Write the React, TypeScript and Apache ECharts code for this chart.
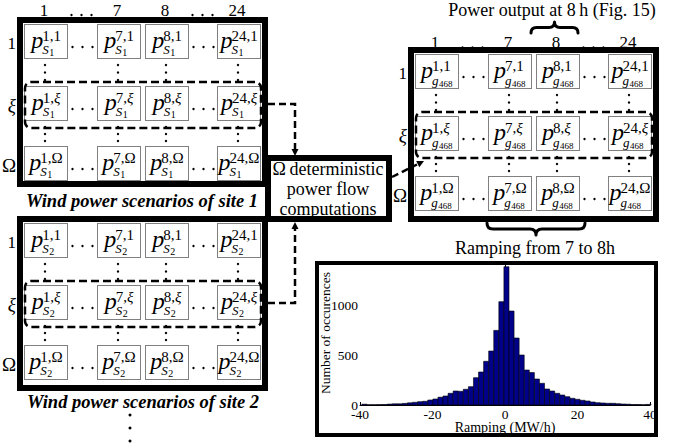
import React, { useEffect, useRef } from "react";
import * as echarts from "echarts";

// ---- labels of the scenario matrices ----
const HOURS = ["1", "7", "8", "24"];
const SCENARIOS = ["1", "ξ", "Ω"];
const SITE_TITLES = ["Wind power scenarios of site 1", "Wind power scenarios of site 2"];
const SITE_SUB = "S";
const SITE_IDX = ["1", "2"];
const GEN_SUB = "g";
const GEN_IDX = "468";
const TOP_NOTE = "Power output at 8\u2009h (Fig. 15)";
const RAMP_NOTE = "Ramping from 7 to 8h";
const PF_LINES = ["Ω\u2009deterministic", "power flow", "computations"];

// ---- ramping histogram (MW/h) ----
const RAMP_BIN_START = -39.5;
const RAMP_BIN_WIDTH = 1.4;
const RAMP_COUNTS = [
  8, 3, 3, 4, 5, 9, 12, 12, 16, 22, 27, 33, 37, 50, 60, 78, 90, 117, 140, 137,
  157, 183, 273, 330, 437, 540, 746, 1033, 1383, 940, 670, 500, 350, 325, 260,
  217, 160, 140, 117, 100, 83, 67, 57, 47, 40, 30, 23, 20, 17, 17, 13, 10, 8, 5,
  5, 3, 6,
];
const RAMP_X_TICKS = [-40, 40, 20];
const RAMP_Y_TICKS = [0, 1400, 500];
const RAMP_X_NAME = "Ramping (MW/h)";
const RAMP_Y_NAME = "Number of occurences";

const SERIF = '"Liberation Serif", "DejaVu Serif", serif';
const BAR_FILL = "#000088";

// matrix geometry
const BOX_W = 251;
const CELL_COLS = [7, 80, 128, 200];
const CELL_W = 44;
const CELL_ROWS = [7, 69, 129];
const CELL_H = 35;

let measureCtx: CanvasRenderingContext2D | null = null;
function measure(t: string, font: string): number {
  if (!measureCtx) measureCtx = document.createElement("canvas").getContext("2d");
  if (!measureCtx) return t.length * 7;
  measureCtx.font = font;
  return measureCtx.measureText(t).width;
}

function bracePath(w: number, h: number, up: boolean): string {
  const m = w / 2;
  const q = h / 2;
  const Y = (v: number) => (up ? v : h - v);
  return (
    `M0,${Y(h)} Q0,${Y(q)} ${q},${Y(q)} L${m - q},${Y(q)} ` +
    `Q${m},${Y(q)} ${m},${Y(0)} Q${m},${Y(q)} ${m + q},${Y(q)} ` +
    `L${w - q},${Y(q)} Q${w},${Y(q)} ${w},${Y(h)}`
  );
}

function registerShapes() {
  echarts.graphic.registerShape("braceUp", echarts.graphic.extendPath(bracePath(47, 11, true), {}) as any);
  echarts.graphic.registerShape("braceDown", echarts.graphic.extendPath(bracePath(98, 12, false), {}) as any);
}

function txt(els: any[], x: number, y: number, t: string, o: any = {}) {
  const align = o.align || "center";
  els.push({
    type: "text",
    x,
    y,
    rotation: o.rotation || 0,
    silent: true,
    z: o.z || 5,
    style: {
      text: t,
      fill: "#000",
      fontFamily: SERIF,
      fontSize: o.fontSize || 17,
      fontStyle: o.fontStyle || "normal",
      fontWeight: o.fontWeight || "normal",
      align,
      textAlign: align,
      verticalAlign: "middle",
      textVerticalAlign: "middle",
      rich: o.rich,
    },
  });
}

function dot(els: any[], x: number, y: number, r = 1.2) {
  els.push({ type: "circle", silent: true, z: 5, shape: { cx: x, cy: y, r }, style: { fill: "#000" } });
}

function matrixBlock(
  els: any[],
  ox: number,
  oy: number,
  h: number,
  base: string,
  idx: string,
  headerDy: number | null
) {
  const isGen = base === GEN_SUB;
  // thick frame
  els.push({
    type: "rect",
    silent: true,
    z: 4,
    shape: { x: ox + 3, y: oy + 3, width: BOX_W - 6, height: h - 6 },
    style: { fill: "none", stroke: "#000", lineWidth: 6 },
  });

  CELL_ROWS.forEach((ry, r) => {
    const rowTop = oy + ry;
    // row label
    const scen = SCENARIOS[r];
    txt(els, ox - 1, rowTop + 19, scen, {
      align: "right",
      fontSize: scen === "1" ? 17 : 19,
      fontStyle: scen === "ξ" ? "italic" : "normal",
    });
    CELL_COLS.forEach((cx, c) => {
      const left = ox + cx;
      els.push({
        type: "rect",
        silent: true,
        z: 5,
        shape: { x: left + 0.5, y: rowTop + 0.5, width: CELL_W - 1, height: CELL_H - 1 },
        style: { fill: "none", stroke: "#000", lineWidth: 1, lineDash: [1, 1] },
      });
      const hour = HOURS[c];
      const supW =
        measure(hour + ",", `15px ${SERIF}`) +
        measure(scen, `${scen === "ξ" ? "italic " : ""}15px ${SERIF}`);
      const subW =
        measure(base, `italic 13px ${SERIF}`) + measure(idx, `${isGen ? 9 : 10}px ${SERIF}`) + 1;
      const pW = measure("p", `italic 24px ${SERIF}`);
      const scriptW = Math.max(supW, subW);
      const cl = left + (CELL_W - (pW - 1 + scriptW)) / 2;
      txt(els, cl, rowTop + 15.5, "p", { align: "left", fontSize: 24, fontStyle: "italic" });
      const sx = cl + pW - 1;
      txt(els, sx, rowTop + 11.5, `{n|${hour},}{${scen === "ξ" ? "i" : "n"}|${scen}}`, {
        align: "left",
        fontSize: 15,
        rich: {
          n: { fontSize: 15, fontFamily: SERIF, fill: "#000" },
          i: { fontSize: 15, fontFamily: SERIF, fontStyle: "italic", fill: "#000" },
        },
      });
      const bW = measure(base, `italic 13px ${SERIF}`);
      txt(els, sx, rowTop + (isGen ? 26.5 : 25), base, { align: "left", fontSize: 13, fontStyle: "italic" });
      txt(els, sx + bW + 0.5, rowTop + (isGen ? 29.5 : 28.5), idx, {
        align: "left",
        fontSize: isGen ? 9 : 10,
      });
    });
    // horizontal ellipses between columns
    [0, 2].forEach((c) => {
      const g0 = ox + CELL_COLS[c] + CELL_W;
      [4.5, 14.5, 24.5].forEach((d) => dot(els, g0 + d, rowTop + 23));
    });
  });

  // vertical dots between the rows
  CELL_COLS.forEach((cx) => {
    const x = ox + cx + CELL_W / 2 - 1;
    [48, 55.5, 63, 110, 117, 124].forEach((d) => dot(els, x, oy + d));
  });

  // dashed frame around scenario ξ
  els.push({
    type: "rect",
    silent: true,
    z: 6,
    shape: { x: ox + 8, y: oy + 65, width: 236, height: 46, r: 6 },
    style: { fill: "none", stroke: "#000", lineWidth: 2.5, lineDash: [8, 4] },
  });

  if (headerDy !== null) {
    CELL_COLS.forEach((cx, c) => {
      txt(els, ox + cx + CELL_W / 2 - 2, oy + headerDy, HOURS[c], { fontSize: 17 });
    });
    [0, 2].forEach((c) => {
      const g0 = ox + CELL_COLS[c] + CELL_W;
      [4.5, 14.5, 24.5].forEach((d) => dot(els, g0 + d - 1, oy + headerDy + 5));
    });
  }
}

function arrowHead(els: any[], tip: number[], from: number[]) {
  const dx = tip[0] - from[0];
  const dy = tip[1] - from[1];
  const L = Math.hypot(dx, dy);
  const ux = dx / L;
  const uy = dy / L;
  const bx = tip[0] - ux * 7;
  const by = tip[1] - uy * 7;
  els.push({
    type: "polygon",
    silent: true,
    z: 6,
    shape: {
      points: [
        [tip[0], tip[1]],
        [bx - uy * 3.5, by + ux * 3.5],
        [bx + uy * 3.5, by - ux * 3.5],
      ],
    },
    style: { fill: "#000" },
  });
}

function dashedLine(els: any[], pts: number[][]) {
  els.push({
    type: "polyline",
    silent: true,
    z: 6,
    shape: { points: pts },
    style: { fill: "none", stroke: "#000", lineWidth: 2.5, lineDash: [7, 4] },
  });
}

function buildGraphics(): any[] {
  const els: any[] = [];
  // site matrices
  matrixBlock(els, 17, 17, 170, SITE_SUB, SITE_IDX[0], -7);
  matrixBlock(els, 17, 216, 175, SITE_SUB, SITE_IDX[1], null);
  txt(els, 142, 201, SITE_TITLES[0], { fontSize: 18.5, fontStyle: "italic", fontWeight: "bold" });
  txt(els, 143, 402, SITE_TITLES[1], { fontSize: 18.5, fontStyle: "italic", fontWeight: "bold" });
  [415, 428, 441].forEach((y) => dot(els, 130, y, 1.5));

  // generator matrix
  matrixBlock(els, 408, 47, 175, GEN_SUB, GEN_IDX, -4.5);

  // power flow box
  els.push({
    type: "rect",
    silent: true,
    z: 4,
    shape: { x: 268, y: 158, width: 121, height: 61 },
    style: { fill: "#fff", stroke: "#000", lineWidth: 6 },
  });
  PF_LINES.forEach((l, i) => txt(els, 328, 169 + i * 20, l, { fontSize: 18 }));

  // dashed arrows
  dashedLine(els, [[268, 104], [295, 104], [295, 150]]);
  arrowHead(els, [295, 156], [295, 140]);
  dashedLine(els, [[268, 303], [295, 303], [295, 228]]);
  arrowHead(els, [295, 222], [295, 240]);
  dashedLine(els, [[392, 177], [417, 164.5]]);
  arrowHead(els, [424, 161], [392, 177]);

  // braces and notes
  els.push({ type: "braceUp", x: 531, y: 22, silent: true, z: 6, style: { fill: "none", stroke: "#000", lineWidth: 3, lineCap: "round", lineJoin: "round" } });
  els.push({ type: "braceDown", x: 487, y: 223, silent: true, z: 6, style: { fill: "none", stroke: "#000", lineWidth: 3, lineCap: "round", lineJoin: "round" } });
  txt(els, 552, 10, TOP_NOTE, { fontSize: 18 });
  txt(els, 535, 248, RAMP_NOTE, { fontSize: 18 });

  // histogram frame and axis names
  els.push({
    type: "rect",
    silent: true,
    z: 10,
    shape: { x: 317, y: 263, width: 339, height: 172 },
    style: { fill: "none", stroke: "#000", lineWidth: 4 },
  });
  txt(els, 325, 333, RAMP_Y_NAME, { fontSize: 13.5, rotation: Math.PI / 2 });
  txt(els, 505, 427.5, RAMP_X_NAME, { fontSize: 14 });
  return els;
}

function buildOption(): any {
  const axisFont = { color: "#000", fontFamily: SERIF, fontSize: 13.5 };
  const plain = (v: number) => String(v);
  return {
    animation: false,
    backgroundColor: "#fff",
    grid: { left: 360, top: 265, width: 290, height: 140 },
    xAxis: {
      type: "value",
      min: RAMP_X_TICKS[0],
      max: RAMP_X_TICKS[1],
      interval: RAMP_X_TICKS[2],
      axisLine: { show: true, lineStyle: { color: "#000", width: 1 } },
      axisTick: { show: true, inside: true, length: 3, lineStyle: { color: "#000" } },
      axisLabel: { ...axisFont, margin: 2, formatter: plain },
      splitLine: { show: false },
    },
    yAxis: {
      type: "value",
      min: RAMP_Y_TICKS[0],
      max: RAMP_Y_TICKS[1],
      interval: RAMP_Y_TICKS[2],
      axisLine: { show: true, lineStyle: { color: "#000", width: 1 } },
      axisTick: { show: true, inside: true, length: 3, lineStyle: { color: "#000" } },
      axisLabel: { ...axisFont, margin: 2, showMaxLabel: false, formatter: plain },
      splitLine: { show: false },
    },
    series: [
      {
        type: "custom",
        coordinateSystem: "cartesian2d",
        data: RAMP_COUNTS.map((c, i) => [RAMP_BIN_START + (i + 0.5) * RAMP_BIN_WIDTH, c]),
        renderItem: (_p: any, api: any) => {
          const xc = api.value(0);
          const v = api.value(1);
          const a = api.coord([xc - RAMP_BIN_WIDTH / 2, v]);
          const b = api.coord([xc + RAMP_BIN_WIDTH / 2, 0]);
          return {
            type: "rect",
            shape: { x: a[0], y: a[1], width: b[0] - a[0], height: b[1] - a[1] },
            style: { fill: BAR_FILL, stroke: "#000", lineWidth: 0.6 },
          };
        },
      },
    ],
    graphic: { elements: buildGraphics() },
  };
}

export default function App() {
  const ref = useRef<HTMLDivElement>(null);
  useEffect(() => {
    if (!ref.current) return;
    registerShapes();
    const chart = echarts.init(ref.current, null, { renderer: "svg" });
    chart.setOption(buildOption());
    return () => chart.dispose();
  }, []);
  return (
    <div
      ref={ref}
      style={{ position: "absolute", left: 0, top: 0, width: 679, height: 448, background: "#fff" }}
    />
  );
}
